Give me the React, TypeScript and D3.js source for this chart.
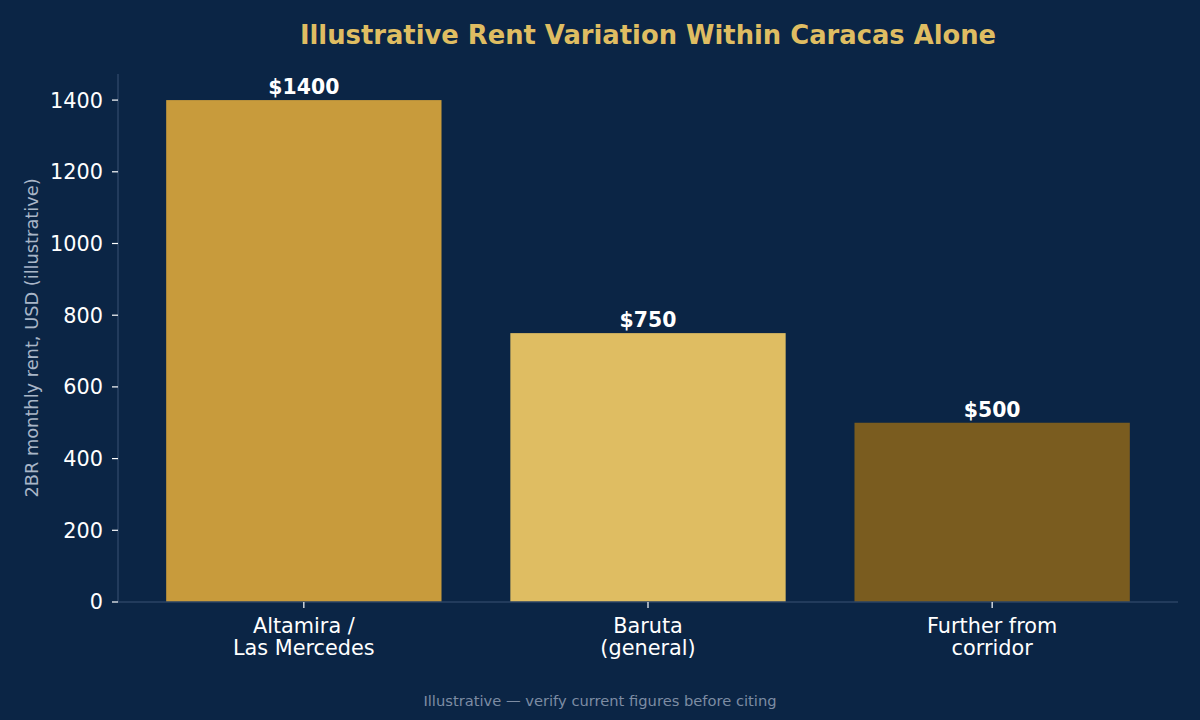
import React from "react";
import * as d3 from "d3";

const categories = ["Altamira /\nLas Mercedes", "Baruta\n(general)", "Further from\ncorridor"];
const rents = [1400, 750, 500];
const barColors = ["#c89b3c", "#dfbd62", "#7a5c1f"];
const yTicks = [0, 200, 400, 600, 800, 1000, 1200, 1400];

const W = 1200, H = 720;
const left = 118, right = 1178, top = 74, bottom = 602;
const BG = "#0b2545";
const FONT = "DejaVu Sans, sans-serif";

export default function App() {
  const x = d3.scaleLinear().domain([-0.54, 2.54]).range([left, right]);
  const y = d3.scaleLinear().domain([0, 1470]).range([bottom, top + 1]);
  const bw = x(0.4) - x(0);
  return (
    <svg width={W} height={H} style={{ position: "absolute", left: 0, top: 0, background: BG }} fontFamily={FONT}>
      <rect x={0} y={0} width={W} height={H} fill={BG} />
      <text x={(left + right) / 2} y={44} textAnchor="middle" fill="#dfbd62" fontSize={25.8} fontWeight="bold">
        Illustrative Rent Variation Within Caracas Alone
      </text>
      {rents.map((v, i) => (
        <g key={i}>
          <rect x={x(i) - bw} y={y(v)} width={bw * 2} height={y(0) - y(v)} fill={barColors[i]} />
          <text x={x(i)} y={y(v) - 6} textAnchor="middle" fill="#ffffff" fontSize={20.4} fontWeight="bold">
            ${v}
          </text>
        </g>
      ))}
      <line x1={left} x2={left} y1={top} y2={bottom} stroke="#2b4364" strokeWidth={1.5} />
      <line x1={left} x2={right} y1={bottom} y2={bottom} stroke="#2b4364" strokeWidth={1.5} />
      {yTicks.map((t) => (
        <g key={t}>
          <line x1={left - 6} x2={left} y1={y(t)} y2={y(t)} stroke="#ffffff" strokeWidth={1.2} />
          <text x={left - 15} y={y(t)} dy="0.36em" textAnchor="end" fill="#ffffff" fontSize={20.8}>
            {t}
          </text>
        </g>
      ))}
      {categories.map((c, i) => (
        <g key={c}>
          <line x1={x(i)} x2={x(i)} y1={bottom} y2={bottom + 6} stroke="#ffffff" strokeWidth={1.2} />
          {c.split("\n").map((ln, j) => (
            <text key={j} x={x(i)} y={633 + j * 22} textAnchor="middle" fill="#ffffff" fontSize={20.8}>
              {ln}
            </text>
          ))}
        </g>
      ))}
      <text transform={`translate(38,${(top + bottom) / 2}) rotate(-90)`} textAnchor="middle" fill="#a9b6c8" fontSize={17.8}>
        2BR monthly rent, USD (illustrative)
      </text>
      <text x={600} y={706} textAnchor="middle" fill="#7d8ca3" fontSize={14.7}>
        Illustrative — verify current figures before citing
      </text>
    </svg>
  );
}
